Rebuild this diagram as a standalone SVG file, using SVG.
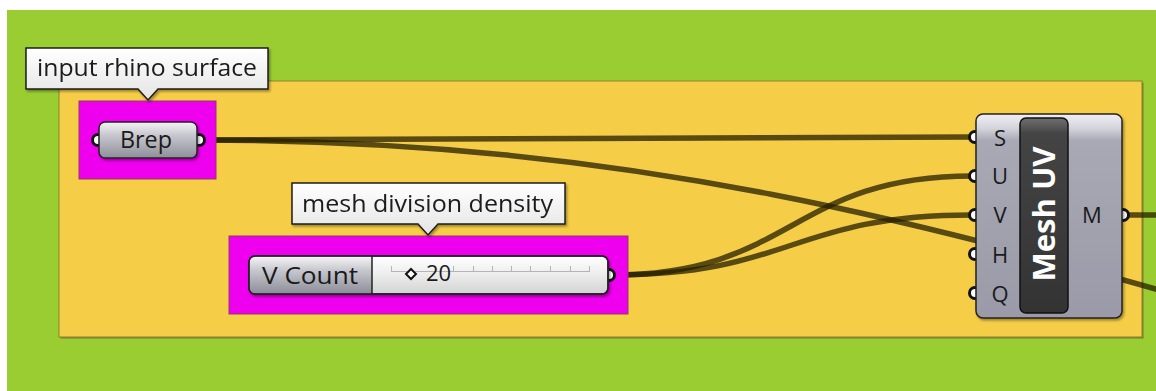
<svg xmlns="http://www.w3.org/2000/svg" width="1156" height="391" viewBox="0 0 1156 391">
  <defs>
    <linearGradient id="pillGrad" x1="0" y1="0" x2="0" y2="1">
      <stop offset="0" stop-color="#f4f4f6"/>
      <stop offset="0.35" stop-color="#c9c9d0"/>
      <stop offset="1" stop-color="#8e8e9a"/>
    </linearGradient>
    <linearGradient id="sliderGrad" x1="0" y1="0" x2="0" y2="1">
      <stop offset="0" stop-color="#ffffff"/>
      <stop offset="0.5" stop-color="#ececec"/>
      <stop offset="1" stop-color="#d2d2d2"/>
    </linearGradient>
    <linearGradient id="balloonGrad" x1="0" y1="0" x2="0" y2="1">
      <stop offset="0" stop-color="#ffffff"/>
      <stop offset="1" stop-color="#e4e4e4"/>
    </linearGradient>
    <linearGradient id="bodyGrad" x1="0" y1="0" x2="0" y2="1">
      <stop offset="0" stop-color="#f0f0f3"/>
      <stop offset="0.07" stop-color="#d4d4dc"/>
      <stop offset="0.13" stop-color="#a9a9b5"/>
      <stop offset="1" stop-color="#9a9aa8"/>
    </linearGradient>
    <linearGradient id="barGrad" x1="0" y1="0" x2="0" y2="1">
      <stop offset="0" stop-color="#707070"/>
      <stop offset="0.08" stop-color="#444444"/>
      <stop offset="1" stop-color="#333333"/>
    </linearGradient>
    <filter id="shadow" x="-10%" y="-10%" width="120%" height="130%">
      <feDropShadow dx="1.5" dy="2" stdDeviation="1" flood-color="#000" flood-opacity="0.35"/>
    </filter>
  </defs>
  <style>
    .txt { font-family: "Open Sans", "Noto Sans", "DejaVu Sans", sans-serif; fill: #1a1a1a; }
    .balloon { fill: url(#balloonGrad); stroke: #1e1e1e; stroke-width: 1.5; }
    .hilite { fill: #ee00ee; stroke: #8e3a6a; stroke-width: 1; }
    .port { fill: #ffffff; stroke: #111111; stroke-width: 3; }
    .wire { fill: none; stroke: #241e00; stroke-opacity: 0.75; stroke-width: 5.5; }
    .pin { font-size: 22px; text-anchor: middle; }
  </style>

  <!-- canvas -->
  <rect x="0" y="0" width="1156" height="391" fill="#ffffff"/>
  <rect x="7" y="10" width="1149" height="381" fill="#9acd32"/>

  <!-- group panel -->
  <g id="group-panel">
    <rect x="60.5" y="82.5" width="1083" height="256" fill="#7d7a2c"/>
    <rect x="59" y="81" width="1083" height="256" fill="#f6cd47" stroke="#8a832e" stroke-width="1"/>
  </g>

  <!-- connectors -->
  <g id="connectors">
    <path class="wire" d="M200,140 C586,140 586,137 972,137"/>
    <path class="wire" d="M200,140 C650,140 950,230 1300,330"/>
    <path class="wire" d="M612,275 C792,275 792,176 972,176"/>
    <path class="wire" d="M612,275 C792,275 792,215 972,215"/>
    <path class="wire" d="M1126,215 L1160,215"/>
  </g>

  <!-- Brep parameter -->
  <g id="brep-node">
    <rect class="hilite" x="79" y="101" width="137" height="78"/>
    <circle class="port" cx="98" cy="140" r="5.5"/>
    <circle class="port" cx="199" cy="140" r="5.5"/>
    <rect x="99" y="122" width="98" height="36" rx="6" fill="url(#pillGrad)" stroke="#222" stroke-width="1.5" filter="url(#shadow)"/>
    <text class="txt" x="120" y="148" font-size="23" textLength="52" lengthAdjust="spacingAndGlyphs">Brep</text>
  </g>

  <!-- balloon: input rhino surface -->
  <g id="balloon-input" filter="url(#shadow)">
    <path class="balloon" d="M26,48 H268 V89 H158 L148,100 L138,89 H26 Z"/>
    <text class="txt" x="37" y="76" font-size="24" textLength="220" lengthAdjust="spacingAndGlyphs">input rhino surface</text>
  </g>

  <!-- V Count slider -->
  <g id="vcount-node">
    <rect class="hilite" x="229" y="236" width="399" height="78"/>
    <circle class="port" cx="609" cy="275" r="5.5"/>
    <g filter="url(#shadow)">
      <rect x="249" y="256" width="359" height="38" rx="6" fill="url(#sliderGrad)" stroke="#222" stroke-width="1.5"/>
      <path d="M255,256.75 H372 V293.25 H255 A5.25,5.25 0 0 1 249.75,288 V262 A5.25,5.25 0 0 1 255,256.75 Z" fill="url(#pillGrad)"/>
      <line x1="372" y1="256" x2="372" y2="294" stroke="#222" stroke-width="1.5"/>
      <rect x="249" y="256" width="359" height="38" rx="6" fill="none" stroke="#222" stroke-width="1.5"/>
    </g>
    <text class="txt" x="262" y="284" font-size="24" textLength="96" lengthAdjust="spacingAndGlyphs">V Count</text>
    <g stroke="#b4b4b4" stroke-width="1">
      <line x1="391" y1="271.5" x2="589" y2="271.5"/>
      <line x1="391.5" y1="266" x2="391.5" y2="272"/>
      <line x1="453.5" y1="266" x2="453.5" y2="272"/>
      <line x1="473.5" y1="266" x2="473.5" y2="272"/>
      <line x1="492.5" y1="266" x2="492.5" y2="272"/>
      <line x1="511.5" y1="266" x2="511.5" y2="272"/>
      <line x1="530.5" y1="266" x2="530.5" y2="272"/>
      <line x1="550.5" y1="266" x2="550.5" y2="272"/>
      <line x1="570.5" y1="266" x2="570.5" y2="272"/>
      <line x1="589.5" y1="266" x2="589.5" y2="272"/>
    </g>
    <path d="M411,269 L416,274 L411,279 L406,274 Z" fill="#ffffff" stroke="#111" stroke-width="2"/>
    <text class="txt" x="426" y="281" font-size="22">20</text>
  </g>

  <!-- balloon: mesh division density -->
  <g id="balloon-density" filter="url(#shadow)">
    <path class="balloon" d="M292,183 H565 V224 H438 L428,235 L418,224 H292 Z"/>
    <text class="txt" x="302" y="212" font-size="24" textLength="251" lengthAdjust="spacingAndGlyphs">mesh division density</text>
  </g>

  <!-- Mesh UV component -->
  <g id="meshuv-node">
    <circle class="port" cx="975" cy="137" r="5.5"/>
    <circle class="port" cx="975" cy="176" r="5.5"/>
    <circle class="port" cx="975" cy="215" r="5.5"/>
    <circle class="port" cx="975" cy="254" r="5.5"/>
    <circle class="port" cx="975" cy="293" r="5.5"/>
    <circle class="port" cx="1123" cy="215" r="5.5"/>
    <rect x="976" y="114" width="146" height="204" rx="7" fill="url(#bodyGrad)" stroke="#222" stroke-width="1.5" filter="url(#shadow)"/>
    <rect x="1020" y="118" width="48" height="195" rx="6" fill="url(#barGrad)" stroke="#111" stroke-width="1.5"/>
    <text class="txt" transform="translate(1044,214) rotate(-90)" x="0" y="11" font-size="31" font-weight="bold" text-anchor="middle" style="fill:#ffffff">Mesh UV</text>
    <text class="txt pin" x="1000" y="146">S</text>
    <text class="txt pin" x="1000" y="184">U</text>
    <text class="txt pin" x="1000" y="223">V</text>
    <text class="txt pin" x="1000" y="263">H</text>
    <text class="txt pin" x="1000" y="302">Q</text>
    <text class="txt pin" x="1092" y="223">M</text>
  </g>
</svg>
